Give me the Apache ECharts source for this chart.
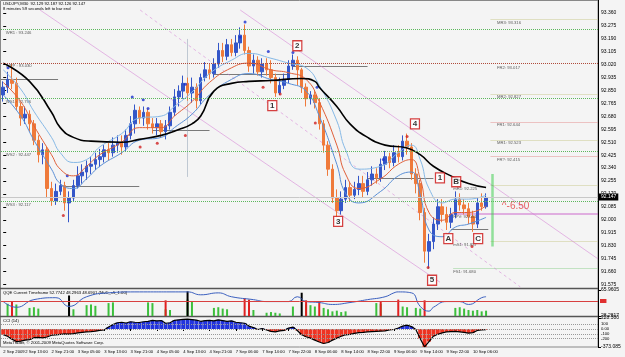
<!DOCTYPE html>
<html>
<head>
<meta charset="utf-8">
<script src="https://cdn.jsdelivr.net/npm/echarts@6/dist/echarts.min.js"></script>
<style>
html, body { margin: 0; padding: 0; background: #f4f4f4; }
#chart { width: 625px; height: 357px; }
</style>
</head>
<body>
<div id="chart"></div>
<script>
'use strict';

// bars, one per 80 min from 2 Sep 06:20 -> [open, close, low, high]
var candles = [
    [92.821, 92.872, 92.777, 92.910], [92.872, 92.923, 92.834, 92.973], [92.923, 92.897, 92.859, 93.024],
    [92.897, 92.745, 92.720, 92.935], [92.745, 92.669, 92.618, 92.770], [92.669, 92.694, 92.631, 92.745],
    [92.694, 92.631, 92.580, 92.720], [92.631, 92.523, 92.491, 92.656], [92.523, 92.428, 92.377, 92.555],
    [92.428, 92.460, 92.365, 92.504], [92.460, 92.206, 92.143, 92.479], [92.206, 92.124, 92.092, 92.250],
    [92.124, 92.187, 92.098, 92.238], [92.187, 92.225, 92.162, 92.263], [92.225, 92.111, 92.060, 92.250],
    [92.111, 92.143, 91.984, 92.187], [92.143, 92.225, 92.124, 92.263], [92.225, 92.289, 92.206, 92.352],
    [92.289, 92.314, 92.238, 92.365], [92.314, 92.352, 92.263, 92.390], [92.352, 92.365, 92.301, 92.415],
    [92.365, 92.396, 92.327, 92.441], [92.396, 92.415, 92.346, 92.466], [92.415, 92.460, 92.377, 92.491],
    [92.460, 92.441, 92.390, 92.504], [92.441, 92.491, 92.415, 92.542], [92.491, 92.504, 92.441, 92.555],
    [92.504, 92.479, 92.428, 92.555], [92.479, 92.555, 92.453, 92.593], [92.555, 92.631, 92.529, 92.682],
    [92.631, 92.720, 92.567, 92.758], [92.720, 92.669, 92.631, 92.745], [92.669, 92.707, 92.618, 92.745],
    [92.707, 92.631, 92.593, 92.732], [92.631, 92.606, 92.567, 92.669], [92.606, 92.631, 92.555, 92.669],
    [92.631, 92.580, 92.542, 92.656], [92.580, 92.618, 92.529, 92.656], [92.618, 92.707, 92.593, 92.745],
    [92.707, 92.808, 92.682, 92.859], [92.808, 92.846, 92.745, 92.884], [92.846, 92.897, 92.796, 92.948],
    [92.897, 92.834, 92.783, 92.935], [92.834, 92.872, 92.770, 92.935], [92.872, 92.783, 92.732, 92.897],
    [92.783, 92.935, 92.758, 92.961], [92.935, 92.986, 92.910, 93.037], [92.986, 92.961, 92.923, 93.024],
    [92.961, 93.024, 92.935, 93.062], [93.024, 93.113, 92.999, 93.163], [93.113, 93.075, 93.037, 93.163],
    [93.075, 93.151, 93.049, 93.189], [93.151, 93.100, 93.075, 93.189], [93.100, 93.163, 93.075, 93.214],
    [93.163, 93.214, 93.125, 93.265], [93.214, 93.113, 93.087, 93.284], [93.113, 93.011, 92.973, 93.138],
    [93.011, 93.049, 92.961, 93.087], [93.049, 92.973, 92.948, 93.075], [92.973, 93.024, 92.935, 93.062],
    [93.024, 92.986, 92.948, 93.062], [92.986, 92.935, 92.897, 93.049], [92.935, 92.834, 92.808, 92.961],
    [92.834, 92.884, 92.821, 92.935], [92.884, 92.923, 92.859, 92.961], [92.923, 93.011, 92.897, 93.049],
    [93.011, 93.049, 92.986, 93.087], [93.049, 92.986, 92.884, 93.075], [92.986, 92.872, 92.834, 92.999],
    [92.872, 92.796, 92.745, 92.897], [92.796, 92.821, 92.758, 92.846], [92.821, 92.770, 92.732, 92.846],
    [92.770, 92.631, 92.593, 92.796], [92.631, 92.491, 92.441, 92.656], [92.491, 92.333, 92.289, 92.517],
    [92.333, 92.143, 92.111, 92.365], [92.143, 92.060, 92.016, 92.200], [92.060, 92.136, 92.035, 92.187],
    [92.136, 92.212, 92.111, 92.263], [92.212, 92.162, 92.124, 92.250], [92.162, 92.200, 92.136, 92.250],
    [92.200, 92.238, 92.162, 92.289], [92.238, 92.187, 92.149, 92.289], [92.187, 92.263, 92.162, 92.314],
    [92.263, 92.301, 92.225, 92.352], [92.301, 92.276, 92.238, 92.339], [92.276, 92.365, 92.250, 92.403],
    [92.365, 92.415, 92.327, 92.453], [92.415, 92.377, 92.339, 92.441], [92.377, 92.441, 92.352, 92.491],
    [92.441, 92.415, 92.377, 92.491], [92.415, 92.517, 92.390, 92.555], [92.517, 92.479, 92.428, 92.567],
    [92.479, 92.301, 92.263, 92.504], [92.301, 92.238, 92.174, 92.339], [92.238, 92.048, 91.997, 92.263],
    [92.048, 91.794, 91.718, 92.079], [91.794, 91.857, 91.680, 91.908], [91.857, 91.972, 91.807, 92.016],
    [91.972, 92.086, 91.933, 92.136], [92.086, 92.035, 91.984, 92.136], [92.035, 91.984, 91.933, 92.086],
    [91.984, 92.035, 91.946, 92.079], [92.035, 92.136, 92.010, 92.187], [92.136, 92.098, 92.060, 92.174],
    [92.098, 92.073, 92.035, 92.136], [92.073, 92.022, 91.972, 92.111], [92.022, 91.972, 91.921, 92.060],
    [91.972, 92.111, 91.946, 92.149], [92.111, 92.086, 92.060, 92.174], [92.086, 92.147, 92.073, 92.174]
];

var tickIdx = [0, 5, 11, 17, 23, 29, 35, 41, 47, 53, 59, 65, 71, 77, 83, 89, 95, 101, 107];
var tickText = ['2 Sep 2009', '2 Sep 13:00', '2 Sep 21:00', '3 Sep 05:00', '3 Sep 13:00', '3 Sep 21:00',
    '4 Sep 05:00', '4 Sep 13:00', '4 Sep 21:00', '7 Sep 06:00', '7 Sep 14:00', '7 Sep 22:00',
    '8 Sep 06:00', '8 Sep 14:00', '8 Sep 22:00', '9 Sep 06:00', '9 Sep 14:00', '9 Sep 22:00', '10 Sep 06:00'];

// moving averages, [bar, price]
var maSlow = [[0, 93.030], [6, 92.910], [11, 92.707], [13, 92.606], [16, 92.542], [20, 92.517], [27, 92.510],
    [31, 92.529], [36, 92.555], [40, 92.593], [43, 92.631], [45, 92.682], [48, 92.846], [52, 92.897],
    [56, 92.910], [61, 92.916], [68, 92.929], [71, 92.910], [72, 92.872], [76, 92.745], [79, 92.631],
    [83, 92.542], [87, 92.491], [92, 92.472], [95, 92.428], [98, 92.352], [102, 92.289], [106, 92.238], [110, 92.212]];
var maFast = [[0, 92.903], [4, 92.777], [7, 92.618], [11, 92.428], [13, 92.333], [16, 92.289], [19, 92.352],
    [22, 92.428], [27, 92.510], [31, 92.606], [36, 92.606], [39, 92.682], [43, 92.777], [47, 92.903],
    [52, 92.999], [56, 93.030], [61, 92.986], [65, 92.967], [69, 92.923], [72, 92.777], [76, 92.491],
    [78, 92.301], [81, 92.206], [86, 92.270], [90, 92.365], [93, 92.396], [95, 92.270], [97, 92.048],
    [100, 91.997], [103, 92.048], [106, 92.048], [110, 92.092]];
var bandUp = [[0, 92.986], [4, 92.859], [7, 92.713], [11, 92.542], [13, 92.441], [16, 92.377], [19, 92.396],
    [22, 92.479], [27, 92.567], [31, 92.669], [36, 92.682], [39, 92.745], [43, 92.840], [47, 92.961],
    [52, 93.049], [56, 93.094], [61, 93.062], [65, 93.030], [69, 92.999], [72, 92.884], [76, 92.650],
    [78, 92.460], [81, 92.333], [86, 92.352], [90, 92.441], [93, 92.491], [95, 92.396], [97, 92.206],
    [100, 92.111], [103, 92.136], [106, 92.136], [110, 92.162]];
var bandDn = [[0, 92.821], [4, 92.682], [7, 92.523], [11, 92.333], [13, 92.238], [16, 92.206], [19, 92.270],
    [22, 92.352], [27, 92.441], [31, 92.523], [36, 92.542], [39, 92.606], [43, 92.694], [47, 92.821],
    [52, 92.923], [56, 92.961], [61, 92.923], [65, 92.897], [69, 92.846], [72, 92.682], [76, 92.365],
    [78, 92.174], [81, 92.111], [86, 92.187], [90, 92.289], [93, 92.314], [95, 92.162], [97, 91.933],
    [100, 91.889], [103, 91.952], [106, 91.972], [110, 92.016]];

// drawn objects: horizontal segments [fromBar, toBar, price]
var flatLines = [[-0.5, 12.5, 92.923], [13.5, 31, 92.218], [34, 47, 92.586], [48, 65, 92.954],
    [66, 83, 93.011], [83, 98, 92.276], [102, 110.5, 91.939]];
// channel lines [[bar, price], [bar, price]]
var channelSolid = [[[8.4, 93.379], [99.5, 91.590]], [[54, 93.379], [135.5, 91.743]]];
var channelDash = [[[31.2, 93.379], [117.8, 91.559]]];
var vLine = [[42, 93.189], [42, 92.282]];
var moveBar = [[111.4, 92.301], [111.4, 91.825]];

var weekPivots = [['WR1', 93.246], ['WPP', 93.030], ['WS1', 92.796], ['WS2', 92.447], ['WS3', 92.117]];
var dayLevels = [['MR3', 93.316], ['FR2', 93.017], ['MR2', 92.827], ['FR1', 92.644], ['MR1', 92.523],
    ['FR?', 92.415], ['mR1', 92.225], ['FPV', 92.041], ['mS1', 91.857], ['FS1', 91.680]];
var dayKinds = ['khaki', 'none', 'khaki', 'pink', 'khaki', 'pink', 'khaki', 'violet', 'khaki', 'green'];

var waveTags = [[61.3, 92.751, '1'], [67, 93.144, '2'], [99.5, 92.276, '1'], [76.3, 91.990, '3'],
    [93.8, 92.631, '4'], [97.7, 91.603, '5'], [101.4, 91.876, 'A'], [103.2, 92.250, 'B'], [108.2, 91.876, 'C']];
var fractUp = [[1.1, 92.999], [14.6, 92.289], [29.4, 92.808], [31.9, 92.789], [33, 92.732], [41.5, 92.891],
    [54, 93.201], [55.1, 93.300], [60.4, 93.106], [66, 93.100], [71.5, 92.872], [86.6, 92.396]];
var fractDn = [[13.7, 92.028], [31.2, 92.479], [35.1, 92.504], [41.5, 92.555], [59.2, 92.872], [63.1, 92.827],
    [71.1, 92.637], [92, 92.548], [96.8, 91.686], [106.8, 91.825]];
var lastPrice = 92.147;
var rangeNote = [113.6, 92.092, '^-6.50'];

// QQE pane
var qqeLine = [[0, 49.2], [3, 40.9], [7, 52.0], [12, 54.8], [15, 42.2], [19, 56.2], [24, 61.8], [30, 63.2],
    [42, 63.2], [45, 59.0], [49, 61.8], [52, 56.2], [57, 52.0], [60, 49.2], [65, 49.2], [67, 56.2],
    [69, 49.2], [72, 47.8], [75, 45.0], [79, 47.8], [83, 52.0], [87, 56.2], [89, 61.8], [90, 63.2],
    [93, 61.8], [95, 42.2], [97, 35.3], [98, 40.9], [101, 49.2], [104, 49.2], [106, 45.0], [109, 54.8], [110, 56.2]];
var qqeGreen = [[1, 46], [2, 48], [3, 45], [6, 40], [7, 41], [8, 39], [15, 40], [16, 38], [19, 44], [20, 45],
    [21, 43], [24, 47], [25, 48], [33, 48], [34, 47], [37, 38], [38, 37], [42, 52], [43, 50], [48, 40],
    [49, 41], [50, 39], [51, 38], [56, 38], [57, 37], [60, 33], [61, 34], [62, 33], [63, 32], [66, 42],
    [69, 45], [70, 44], [71, 42], [73, 40], [74, 38], [75, 35], [76, 36], [77, 34], [78, 35], [85, 47],
    [86, 46], [91, 42], [92, 41], [94, 40], [95, 39], [103, 40], [104, 41], [105, 39], [106, 37],
    [107, 36], [108, 37], [109, 35], [110, 36]];
var qqeRed = [[2, 49], [37, 51], [55, 54], [56, 52], [69, 51], [72, 50], [86, 50], [90, 52], [96, 51]];
var qqeBlack = [[15, 58], [42, 64], [68, 62]];
var qqeLevel = 50;

// CCI(14) pane
var cci = [-120, -150, -210, -260, -250, -230, -220, -180, -175, -185, -165, -130, -120, -110, -100, -105,
    -95, -80, -70, -60, -55, -45, -30, -20, 40, 90, 130, 140, 125, 150, 140, 135, 150, 160, 180, 170,
    175, 120, 130, 180, 190, 200, 205, 195, 185, 160, 175, 180, 170, 190, 175, 160, 170, 140, 130, 120,
    60, 30, -10, 10, -20, -50, -60, -40, -30, 20, 40, -30, -120, -160, -190, -230, -270, -300, -280,
    -230, -190, -150, -120, -110, -90, -75, -70, -60, -55, -50, -45, -40, -20, -10, 20, 60, 80, 50,
    -10, -200, -373, -260, -150, -110, -80, -60, -55, -50, -60, -70, -85, -75, -30, -20, -15];
var cciLevels = [100, 0, -100, -200];

var SLOTS = 136;
var cats = [];
for (var k = 0; k < SLOTS; k++) {
    cats.push(String(k));
}

var FONT = 'Liberation Sans, Arial, sans-serif';
var SMALL = 4.2;
var kindColor = { khaki: '#c9c98f', pink: '#e39090', violet: '#c23bc2', green: '#8fd08f' };

var chart = echarts.init(document.getElementById('chart'));

var flatData = flatLines.map(function (s) {
    return { coords: [[s[0], s[2]], [s[1], s[2]]] };
});

var levelSeg = [];
dayLevels.forEach(function (d, i) {
    var kind = dayKinds[i];
    if (kind === 'none') {
        return;
    }
    var from = (kind === 'violet' || kind === 'green') ? 102.5 : 111;
    levelSeg.push({
        coords: [[from, d[1]], [135.5, d[1]]],
        lineStyle: { color: kindColor[kind], width: kind === 'violet' ? 1.5 : 1 }
    });
});

var levelText = dayLevels.map(function (d, i) {
    var at = i >= 6 ? 102.5 : 112.5;
    return { value: [at, d[1]], name: d[0] + ': ' + d[1].toFixed(3) };
});

var pivotText = weekPivots.map(function (w) {
    return { value: [0.6, w[1]], name: w[0] + ' : ' + w[1].toFixed(3) };
});

function tinyText(top, text) {
    return {
        type: 'text', left: 3, top: top, silent: true,
        style: { text: text, fontSize: SMALL, fill: '#000', fontFamily: FONT }
    };
}

var option = {
    animation: false,
    backgroundColor: '#f4f4f4',
    textStyle: { fontFamily: FONT },
    grid: [
        { left: 1, right: 27, top: -10.4, height: 307.8 },
        { left: 1, right: 27, top: 290, height: 26 },
        { left: 1, right: 27, top: 318, height: 29 }
    ],
    xAxis: [
        { type: 'category', gridIndex: 0, data: cats, show: false },
        { type: 'value', gridIndex: 0, min: -0.5, max: SLOTS - 0.5, show: false },
        { type: 'category', gridIndex: 1, data: cats, show: false },
        {
            type: 'category', gridIndex: 2, data: cats,
            axisLine: { show: false },
            axisTick: {
                show: true, alignWithLabel: true, length: 2,
                interval: function (i) { return tickIdx.indexOf(i) >= 0; },
                lineStyle: { color: '#000' }
            },
            axisLabel: {
                interval: function (i) { return tickIdx.indexOf(i) >= 0; },
                formatter: function (v, i) { return tickText[tickIdx.indexOf(i)] || ''; },
                hideOverlap: false,
                align: 'left', fontSize: SMALL, color: '#000', margin: 3
            }
        }
    ],
    yAxis: [
        {
            type: 'value', gridIndex: 0, position: 'right', min: 91.49, max: 93.445, interval: 0.085,
            splitLine: { show: false },
            axisLine: { show: false },
            axisTick: { show: true, length: 3, lineStyle: { color: '#000' } },
            axisLabel: {
                fontSize: 5, color: '#000', margin: 3, showMinLabel: false, showMaxLabel: false,
                formatter: function (v) { return v.toFixed(3); }
            }
        },
        {
            type: 'value', gridIndex: 1, position: 'right', min: 28.2817, max: 65.9605, interval: 37.6788,
            splitLine: { show: false }, axisLine: { show: false },
            axisTick: { show: true, length: 3, lineStyle: { color: '#000' } },
            axisLabel: { fontSize: 5, color: '#000', margin: 3, formatter: function (v) { return v.toFixed(4); } }
        },
        {
            type: 'value', gridIndex: 2, position: 'right', min: -373.085, max: 228.3, interval: 601.385,
            splitLine: { show: false }, axisLine: { show: false },
            axisTick: { show: true, length: 3, lineStyle: { color: '#000' } },
            axisLabel: { fontSize: 5, color: '#000', margin: 3, formatter: function (v) { return v.toFixed(3); } }
        }
    ],
    series: [
        {
            type: 'lines', coordinateSystem: 'cartesian2d', xAxisIndex: 1, yAxisIndex: 0, silent: true,
            data: levelSeg, z: 1
        },
        {
            type: 'candlestick', xAxisIndex: 0, yAxisIndex: 0, data: candles, barWidth: 3,
            itemStyle: { color: '#3456c8', color0: '#ef7a3a', borderColor: '#3456c8', borderColor0: '#ef7a3a', borderWidth: 1 },
            markLine: {
                silent: true, symbol: 'none',
                lineStyle: { color: '#5cb85c', type: 'dotted', width: 1 },
                label: { show: false },
                data: weekPivots.map(function (w, i) {
                    return i === 1 ? { yAxis: w[1], lineStyle: { color: '#b04a3a' } } : { yAxis: w[1] };
                }).concat([{
                    yAxis: lastPrice,
                    lineStyle: { color: '#c8c8c8', type: 'solid', width: 1 },
                    label: {
                        show: true, position: 'end', distance: 1, formatter: lastPrice.toFixed(3),
                        backgroundColor: '#000', color: '#fff', fontSize: 5, padding: [1, 2]
                    }
                }])
            }
        },
        { type: 'line', xAxisIndex: 1, yAxisIndex: 0, data: bandUp, smooth: true, symbol: 'none', lineStyle: { color: '#86b9e6', width: 1 } },
        { type: 'line', xAxisIndex: 1, yAxisIndex: 0, data: bandDn, smooth: true, symbol: 'none', lineStyle: { color: '#5a8fd6', width: 1 } },
        { type: 'line', xAxisIndex: 1, yAxisIndex: 0, data: maFast, smooth: true, symbol: 'none', lineStyle: { color: '#e0603a', width: 1 } },
        { type: 'line', xAxisIndex: 1, yAxisIndex: 0, data: maSlow, smooth: true, symbol: 'none', lineStyle: { color: '#000', width: 1.6 } },
        {
            type: 'lines', coordinateSystem: 'cartesian2d', xAxisIndex: 1, yAxisIndex: 0, silent: true,
            lineStyle: { color: '#000', width: 1.2 }, data: flatData
        },
        {
            type: 'lines', coordinateSystem: 'cartesian2d', xAxisIndex: 1, yAxisIndex: 0, silent: true,
            lineStyle: { color: '#d276d2', width: 1 },
            data: channelSolid.map(function (c) { return { coords: c }; })
        },
        {
            type: 'lines', coordinateSystem: 'cartesian2d', xAxisIndex: 1, yAxisIndex: 0, silent: true,
            lineStyle: { color: '#d276d2', width: 1, type: [3, 3] },
            data: channelDash.map(function (c) { return { coords: c }; })
        },
        {
            type: 'lines', coordinateSystem: 'cartesian2d', xAxisIndex: 1, yAxisIndex: 0, silent: true,
            data: [
                { coords: vLine, lineStyle: { color: '#8a9bb0', width: 1 } },
                { coords: moveBar, lineStyle: { color: '#2ecc40', width: 2.5 } }
            ]
        },
        {
            type: 'scatter', xAxisIndex: 1, yAxisIndex: 0, symbolSize: 3, itemStyle: { color: '#1a2fd0' },
            data: fractUp
        },
        {
            type: 'scatter', xAxisIndex: 1, yAxisIndex: 0, symbolSize: 3, itemStyle: { color: '#d02020' },
            data: fractDn
        },
        {
            type: 'scatter', xAxisIndex: 1, yAxisIndex: 0, symbol: 'rect', symbolSize: [9, 10], z: 5,
            itemStyle: { color: '#fff', borderColor: '#cc1111', borderWidth: 1.3 },
            label: { show: true, position: 'inside', fontSize: 8, fontWeight: 'bold', color: '#000', formatter: '{b}' },
            data: waveTags.map(function (t) { return { value: [t[0], t[1]], name: t[2] }; })
        },
        {
            type: 'scatter', xAxisIndex: 1, yAxisIndex: 0, symbolSize: 0, silent: true,
            label: { show: true, position: 'right', distance: 0, offset: [0, 3], fontSize: SMALL, color: '#333', formatter: '{b}' },
            data: pivotText.concat(levelText)
        },
        {
            type: 'scatter', xAxisIndex: 1, yAxisIndex: 0, symbolSize: 0, silent: true,
            label: { show: true, position: 'right', distance: 0, fontSize: 10, color: '#e23a3a', formatter: '{b}' },
            data: [{ value: [rangeNote[0], rangeNote[1]], name: rangeNote[2] }]
        },
        // QQE
        { type: 'bar', xAxisIndex: 2, yAxisIndex: 1, data: qqeGreen, barWidth: 2, itemStyle: { color: '#3cbf3c' } },
        { type: 'bar', xAxisIndex: 2, yAxisIndex: 1, data: qqeRed, barWidth: 2, barGap: '-100%', itemStyle: { color: '#e02020' } },
        { type: 'bar', xAxisIndex: 2, yAxisIndex: 1, data: qqeBlack, barWidth: 2, barGap: '-100%', itemStyle: { color: '#000' } },
        {
            type: 'line', xAxisIndex: 2, yAxisIndex: 1, data: qqeLine, smooth: true, symbol: 'none',
            lineStyle: { color: '#3a5fbf', width: 1 },
            markLine: {
                silent: true, symbol: 'none', lineStyle: { color: '#d84040', type: 'solid', width: 1 },
                label: { show: true, position: 'end', distance: 2, formatter: '50', fontSize: 4, color: '#e03030', backgroundColor: '#e03030', padding: [0, 1] },
                data: [{ yAxis: qqeLevel }]
            }
        },
        // CCI
        {
            type: 'bar', xAxisIndex: 3, yAxisIndex: 2, data: cci, barWidth: 4,
            itemStyle: { color: function (p) { return p.value >= 0 ? '#2233dd' : '#ee3322'; } },
            markLine: {
                silent: true, symbol: 'none', lineStyle: { color: '#999', type: 'dotted', width: 1 },
                label: { show: true, position: 'end', distance: 3, fontSize: SMALL, color: '#000',
                    formatter: function (p) { return p.value === 0 ? '0.00' : String(p.value); } },
                data: cciLevels.map(function (v) { return { yAxis: v }; })
            }
        },
        { type: 'line', xAxisIndex: 3, yAxisIndex: 2, data: cci, symbol: 'none', lineStyle: { color: '#000', width: 1.2 } }
    ],
    graphic: [
        { type: 'rect', shape: { x: 0.5, y: 0.5, width: 597.5, height: 346.5 }, style: { fill: null, stroke: '#888', lineWidth: 1 }, silent: true },
        { type: 'line', shape: { x1: 598.5, y1: 0, x2: 598.5, y2: 347 }, style: { stroke: '#000', lineWidth: 1 }, silent: true },
        { type: 'line', shape: { x1: 0, y1: 288.5, x2: 598, y2: 288.5 }, style: { stroke: '#555', lineWidth: 1.5 }, silent: true },
        { type: 'line', shape: { x1: 0, y1: 316.5, x2: 598, y2: 316.5 }, style: { stroke: '#555', lineWidth: 1.5 }, silent: true },
        tinyText(2, 'USDJPY,M30  92.129 92.187 92.126 92.147'),
        tinyText(7, '8 minutes 59 seconds left to bar end'),
        tinyText(291, 'QQE Current Timeframe 52.7742 48.2963 48.6901 (MvD_s5_1.00)'),
        tinyText(319, 'CCI (14)'),
        tinyText(341, 'MetaTrader, \u00a9 2001-2009 MetaQuotes Software Corp.')
    ]
};

chart.setOption(option);
</script>
</body>
</html>
